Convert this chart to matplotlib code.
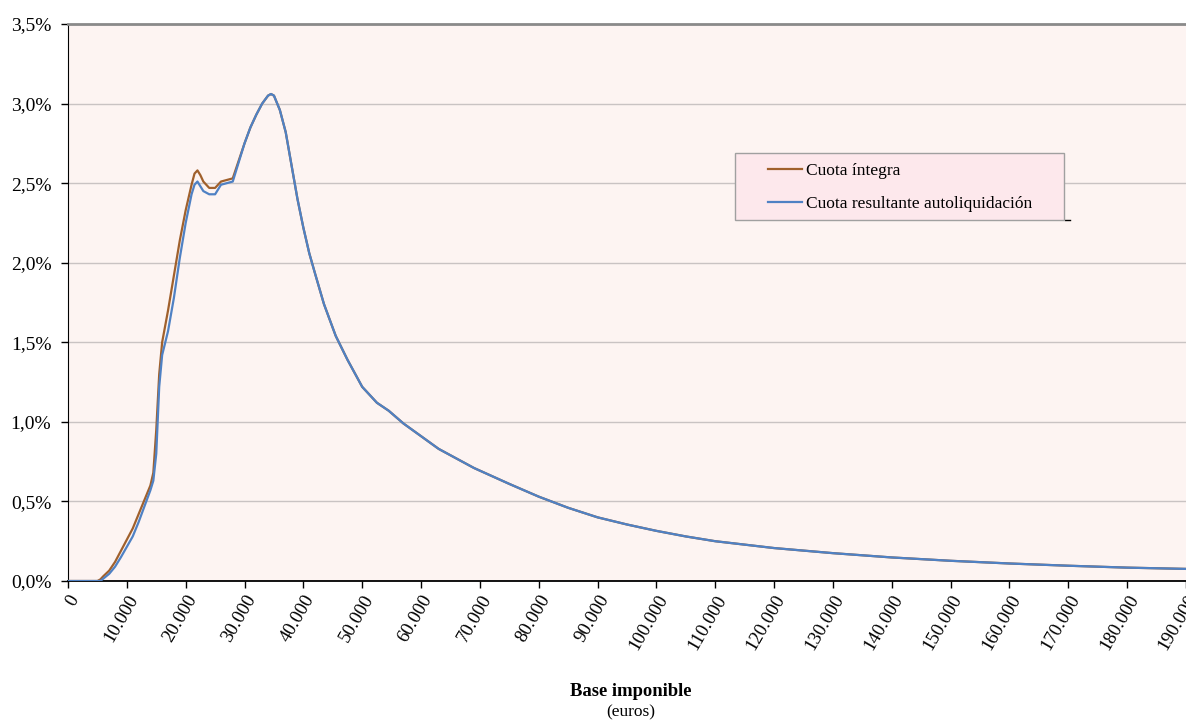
import matplotlib
matplotlib.use("Agg")
import matplotlib.pyplot as plt
from matplotlib.ticker import FuncFormatter
from matplotlib.lines import Line2D
from matplotlib.patches import Rectangle

# Data (base imponible in euros, share in %)
base = [0, 5000, 5500, 6000, 7000, 8000, 9000, 10000, 11000, 12000, 13000, 14000,
        14500, 15000, 15500, 16000, 17000, 18000, 19000, 20000, 21000, 21500, 22000,
        22500, 23000, 24000, 25000, 26000, 27000, 28000, 29000, 30000, 31000, 32000,
        33000, 34000, 34500, 35000, 36000, 37000, 38000, 39000, 40000, 41000, 42000,
        43500, 45500, 47500, 50000, 52500, 54500, 57000, 60000, 63000, 66000, 69000,
        72000, 75000, 80000, 85000, 90000, 95000, 100000, 105000, 110000, 120000,
        130000, 140000, 150000, 160000, 170000, 180000, 190000]

cuota_integra = [0, 0, 0.01, 0.03, 0.065, 0.12, 0.19, 0.26, 0.33, 0.42, 0.51, 0.60,
                 0.68, 0.95, 1.30, 1.50, 1.70, 1.92, 2.14, 2.33, 2.49, 2.56, 2.58,
                 2.55, 2.51, 2.47, 2.47, 2.51, 2.52, 2.53, 2.64, 2.75, 2.85, 2.93,
                 3.00, 3.05, 3.06, 3.05, 2.96, 2.82, 2.61, 2.40, 2.22, 2.06, 1.93,
                 1.74, 1.54, 1.39, 1.22, 1.12, 1.07, 0.99, 0.91, 0.83, 0.77, 0.71,
                 0.66, 0.61, 0.53, 0.46, 0.40, 0.355, 0.315, 0.28, 0.25, 0.207,
                 0.175, 0.148, 0.127, 0.110, 0.096, 0.084, 0.076]

cuota_resultante = [0, 0, 0, 0.015, 0.045, 0.09, 0.15, 0.215, 0.28, 0.37, 0.47, 0.57,
                    0.63, 0.80, 1.22, 1.42, 1.57, 1.78, 2.03, 2.25, 2.43, 2.49, 2.51,
                    2.48, 2.45, 2.43, 2.43, 2.49, 2.50, 2.51, 2.63, 2.75, 2.85, 2.93,
                    3.00, 3.05, 3.06, 3.05, 2.96, 2.82, 2.61, 2.40, 2.22, 2.06, 1.93,
                    1.74, 1.54, 1.39, 1.22, 1.12, 1.07, 0.99, 0.91, 0.83, 0.77, 0.71,
                    0.66, 0.61, 0.53, 0.46, 0.40, 0.355, 0.315, 0.28, 0.25, 0.207,
                    0.175, 0.148, 0.127, 0.110, 0.096, 0.084, 0.076]

series_labels = ["Cuota íntegra", "Cuota resultante autoliquidación"]
xticks = list(range(0, 190001, 10000))
yticks = [0, 0.5, 1.0, 1.5, 2.0, 2.5, 3.0, 3.5]

plt.rcParams['font.family'] = ['Liberation Serif', 'DejaVu Serif']

W, H = 1186, 720
fig = plt.figure(figsize=(W / 100, H / 100), dpi=100)
ax = fig.add_axes([68 / W, 1 - 581 / H, 1 - 68 / W, (581 - 24) / H])
ax.set_facecolor('#fdf4f2')

brown = '#a0602c'
blue = '#4f81c4'
l1, = ax.plot(base, cuota_integra, color=brown, lw=1.6, zorder=3)
l2, = ax.plot(base, cuota_resultante, color=blue, lw=1.6, zorder=4)

ax.set_xlim(0, 190000)
ax.set_ylim(0, 3.5)
ax.set_yticks(yticks)
ax.set_xticks(xticks)
ax.yaxis.set_major_formatter(FuncFormatter(lambda v, p: f"{v:.1f}".replace('.', ',') + '%'))
ax.xaxis.set_major_formatter(FuncFormatter(lambda v, p: f"{int(v):,}".replace(',', '.')))
ax.grid(axis='y', color='#c9c3c3', lw=1.0)
ax.set_axisbelow(True)

ax.tick_params(axis='both', direction='out', length=5, width=1, colors='black')
ax.tick_params(axis='y', labelsize=14, pad=7)
ax.tick_params(axis='x', labelsize=13.5, pad=3)
for lab in ax.get_xticklabels():
    lab.set_rotation(60)
    lab.set_ha('right')
    lab.set_va('top')
    lab.set_rotation_mode('anchor')

ax.spines['right'].set_visible(False)
ax.spines['top'].set_color('#8a8a8a')
ax.spines['top'].set_linewidth(2)
ax.spines['left'].set_color('black')
ax.spines['bottom'].set_color('black')
ax.spines['bottom'].set_linewidth(1.3)

# Legend frame drawn as a rectangle (figure pixel geometry)
frame = Rectangle((735 / W, 1 - 220 / H), (1064 - 735) / W, (220 - 153) / H,
                  transform=fig.transFigure, facecolor='#fde8ec', edgecolor='#a0a0a0',
                  lw=1.0, zorder=5)
fig.add_artist(frame)
leg = fig.legend([l1, l2], series_labels, loc='center left',
                 bbox_to_anchor=(768 / W, 1 - 187.5 / H),
                 bbox_transform=fig.transFigure, frameon=False, fontsize=12.5,
                 handlelength=1.95, handletextpad=0.25, borderpad=0, borderaxespad=0,
                 labelspacing=0.95)
leg.set_zorder(7)

fig.add_artist(Line2D([1065 / W, 1070 / W], [1 - 220 / H, 1 - 220 / H], color='black', lw=1))

fig.text(631 / W, 1 - 692 / H, 'Base imponible', ha='center', va='center',
         fontsize=13.4, fontweight='bold')
fig.text(631 / W, 1 - 712 / H, '(euros)', ha='center', va='center', fontsize=12.5)

fig.savefig('out.png', dpi=100)
